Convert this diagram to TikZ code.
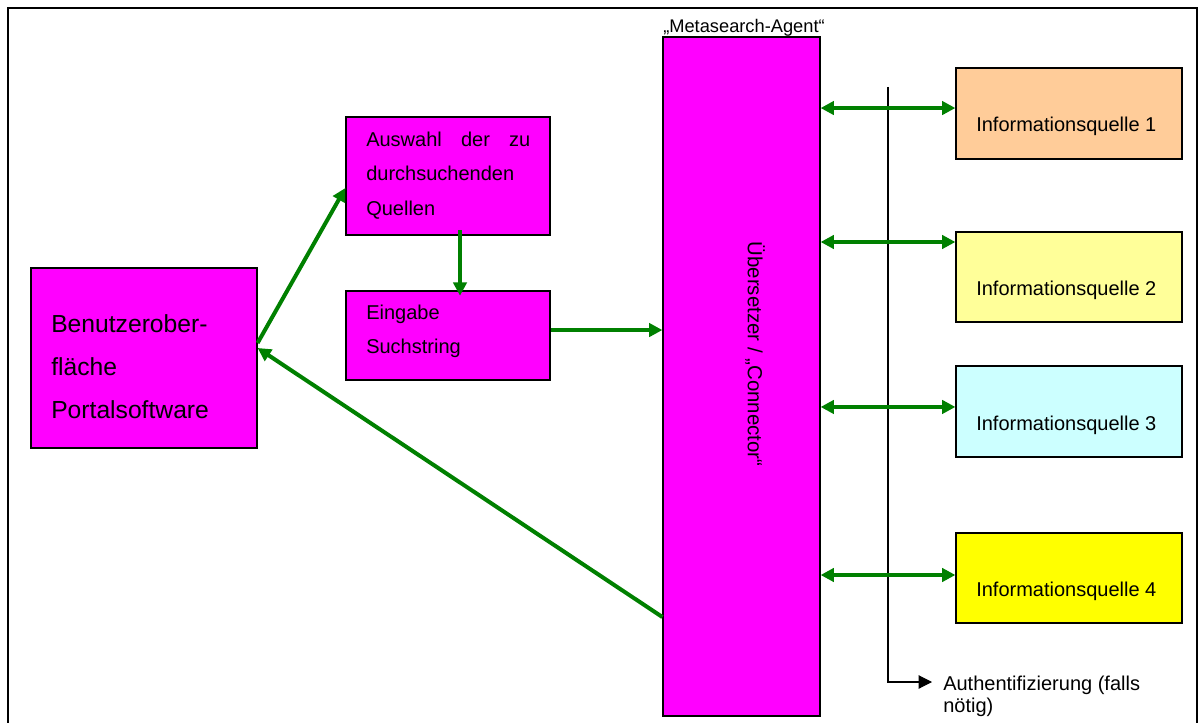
\documentclass[tikz,border=0pt]{standalone}
\usepackage{fontspec}
\setmainfont{Liberation Sans}
\usetikzlibrary{arrows.meta,fit,calc}
\definecolor{mag}{HTML}{FF00FF}
\definecolor{peach}{HTML}{FFCC99}
\definecolor{lyellow}{HTML}{FFFF99}
\definecolor{lcyan}{HTML}{CCFFFF}
\definecolor{yel}{HTML}{FFFF00}
\definecolor{agreen}{HTML}{008000}
\begin{document}
\begin{tikzpicture}[x=0.75pt,y=-0.75pt,
  box/.style={draw=black,line width=0.9pt,inner sep=0pt},
  garrow/.style={draw=agreen,line width=3pt,-{Triangle[length=10pt,width=10pt]}},
  gdouble/.style={draw=agreen,line width=3pt,{Triangle[length=10pt,width=10pt]}-{Triangle[length=10pt,width=10pt]}},
  lbl/.style={inner sep=0pt,anchor=north west,align=left},
  infotext/.style={inner sep=0pt,anchor=base west,font=\fontsize{15}{18}\selectfont}
]
\path[use as bounding box, clip] (0,0) rectangle (1202,723);
\draw[line width=0.9pt] (8,740) -- (8,8) -- (1197,8) -- (1197,740);
\draw[line width=1.6pt] (8,8) -- (1197,8);

% boxes
\node[box,fill=mag,fit={(31,268)(257,448)}] (ben) {};
\node[box,fill=mag,fit={(346,117)(550,235)}] (aus) {};
\node[box,fill=mag,fit={(346,291)(550,380)}] (ein) {};
\node[box,fill=mag,fit={(663,37)(820,716)}] (agent) {};
\node[box,fill=peach,fit={(956,68)(1182,159)}] (i1) {};
\node[box,fill=lyellow,fit={(956,232)(1182,322)}] (i2) {};
\node[box,fill=lcyan,fit={(956,366)(1182,457)}] (i3) {};
\node[box,fill=yel,fit={(956,533)(1182,623)}] (i4) {};

% labels
\node[lbl,font=\fontsize{18.5}{32.3}\selectfont] (benT) at (51,314) {Benutzerober-\\fläche\\Portalsoftware};
\node[lbl,font=\fontsize{15}{25.9}\selectfont] (ausT) at (366,131.5) {\makebox[123pt][s]{Auswahl der zu}\\durchsuchenden\\Quellen};
\node[lbl,font=\fontsize{15}{25.5}\selectfont] (einT) at (366,304.5) {Eingabe\\Suchstring};
\node[inner sep=0pt,anchor=base west,font=\fontsize{13.7}{16}\selectfont] (agentT) at (663,33) {„Metasearch-Agent“};
\node[inner sep=0pt,rotate=-90,font=\fontsize{15.3}{18}\selectfont] (agentR) at (755,354) {Übersetzer / „Connector“};
\node[infotext] (i1T) at (976,132) {Informationsquelle 1};
\node[infotext] (i2T) at (976,296) {Informationsquelle 2};
\node[infotext] (i3T) at (976,430) {Informationsquelle 3};
\node[infotext] (i4T) at (976,596) {Informationsquelle 4};
\node[lbl,font=\fontsize{15}{16.5}\selectfont] (auth) at (943,675.5) {Authentifizierung (falls\\nötig)};

% authentication line
\coordinate (vt) at (888,87);
\coordinate (ae) at (932,682);
\draw[line width=0.8pt,-{Triangle[length=10pt,width=10pt]}] (vt) |- (ae);

% green connectors
\draw[garrow] ([yshift=11.25pt]ben.east) -- ([yshift=-9pt]aus.west);
\draw[garrow] ([xshift=9pt,yshift=4pt]aus.south) -- ([xshift=9pt,yshift=-4pt]ein.north);
\draw[garrow] ([yshift=4.1pt]ein.east) -- ([yshift=4.1pt]ein.east -| agent.west);
\draw[garrow] ([yshift=-180.4pt]agent.west) -- ([yshift=7.5pt]ben.east);
\draw[gdouble] ([yshift=4.1pt]i1.west -| agent.east) -- ([yshift=4.1pt]i1.west);
\draw[gdouble] ([yshift=26.25pt]i2.west -| agent.east) -- ([yshift=26.25pt]i2.west);
\draw[gdouble] ([yshift=3.4pt]i3.west -| agent.east) -- ([yshift=3.4pt]i3.west);
\draw[gdouble] ([yshift=2.25pt]i4.west -| agent.east) -- ([yshift=2.25pt]i4.west);
\end{tikzpicture}
\end{document}
